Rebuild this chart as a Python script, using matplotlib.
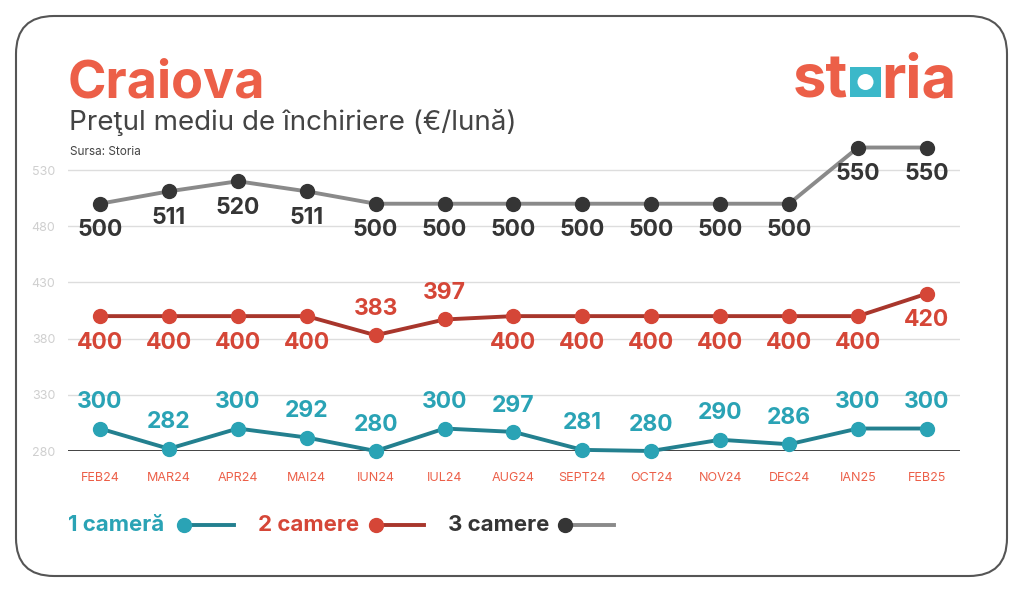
import matplotlib
matplotlib.use("Agg")
import matplotlib.pyplot as plt
from matplotlib.patches import FancyBboxPatch, Rectangle, Circle
from matplotlib.lines import Line2D
from matplotlib.transforms import IdentityTransform

plt.rcParams['font.family'] = ['Inter', 'DejaVu Sans']

# date
luni = ["FEB24", "MAR24", "APR24", "MAI24", "IUN24", "IUL24", "AUG24",
        "SEPT24", "OCT24", "NOV24", "DEC24", "IAN25", "FEB25"]
camera1 = [300, 282, 300, 292, 280, 300, 297, 281, 280, 290, 286, 300, 300]
camere2 = [400, 400, 400, 400, 383, 397, 400, 400, 400, 400, 400, 400, 420]
camere3 = [500, 511, 520, 511, 500, 500, 500, 500, 500, 500, 500, 550, 550]
yticks = [280, 330, 380, 430, 480, 530]

coral = "#ec5f48"
teal_m = "#2aa3b5"
teal_l = "#23808f"
red_m = "#d54637"
red_l = "#a8362c"
dark = "#353535"
gray_l = "#8a8a8a"

W, H = 1024, 592
fig = plt.figure(figsize=(W/100, H/100), dpi=100)
fig.patch.set_facecolor("white")

# rama rotunjita
fig.patches.append(FancyBboxPatch((16, 16), 991, 560,
                                  boxstyle="round,pad=0,rounding_size=38",
                                  transform=IdentityTransform(),
                                  facecolor="none", edgecolor="#555555", lw=1.5))

ax = fig.add_axes([68/W, (H-451)/H, 892/W, 311/H])
x = list(range(len(luni)))
ax.set_xlim(-0.464, 12.48)
ax.set_ylim(280, 280 + 311/1.124)

for s in ax.spines.values():
    s.set_visible(False)
for t in yticks:
    if t == 280:
        ax.axhline(t, color="#333333", lw=1.3, zorder=1)
    else:
        ax.axhline(t, color="#dddddd", lw=1.0, zorder=1)
ax.set_yticks(yticks)
ax.set_yticklabels([str(t) for t in yticks], color="#cfcfcf", fontsize=9)
ax.tick_params(axis="y", length=0, pad=9)
ax.set_xticks(x)
ax.set_xticklabels(luni, color=coral, fontsize=9)
ax.tick_params(axis="x", length=0, pad=15)

def serie(vals, lc, mc, tc, below):
    ax.plot(x, vals, color=lc, lw=2.8, zorder=3, clip_on=False)
    ax.plot(x, vals, "o", color=mc, ms=10, zorder=4, clip_on=False)
    for i, v in enumerate(vals):
        off = -19 if below[i] else 19
        ax.annotate(str(v), (i, v), xytext=(0, off), textcoords="offset points",
                    ha="center", va="center", fontsize=16.5, fontweight="bold",
                    color=tc, zorder=5)

serie(camere3, gray_l, dark, dark, [True]*13)
serie(camere2, red_l, red_m, red_m,
      [True, True, True, True, False, False, True, True, True, True, True, True, True])
serie(camera1, teal_l, teal_m, teal_m, [False]*13)

# titluri
fig.text(68/W, 1-97/H, "Craiova", fontsize=37.5, fontweight="bold", color=coral,
         va="baseline", ha="left")
fig.text(69/W, 1-123/H, "Preţul mediu de închiriere (€/lună)", fontsize=20,
         color="#444444", va="center", ha="left")
fig.text(70/W, 1-152/H, "Sursa: Storia", fontsize=8.5, color="#444444",
         va="center", ha="left")

# logo
fig.text(848/W, 1-97/H, "st", fontsize=43, fontweight="bold", color=coral,
         va="baseline", ha="right")
fig.patches.append(Rectangle((850, H-97), 31, 30, transform=IdentityTransform(),
                             facecolor="#3bb8c9", edgecolor="none"))
fig.patches.append(Circle((865.5, H-82), 8, transform=IdentityTransform(),
                          facecolor="white", edgecolor="none"))
fig.text(881/W, 1-97/H, "ria", fontsize=43, fontweight="bold", color=coral,
         va="baseline", ha="left")

# legenda
leg = [("1 cameră", teal_m, teal_m, teal_l, 68, 184, 234),
       ("2 camere", red_m, red_m, red_l, 258, 376, 424),
       ("3 camere", dark, dark, gray_l, 448, 565, 614)]
ly = H - 525
for lab, tc, mc, lc, tx, mx, ex in leg:
    fig.text(tx/W, ly/H, lab, fontsize=16, fontweight="bold", color=tc,
             va="center", ha="left")
    fig.lines.append(Line2D([mx, ex], [ly, ly], transform=IdentityTransform(),
                            color=lc, lw=2.8))
    fig.lines.append(Line2D([mx], [ly], transform=IdentityTransform(),
                            marker="o", ms=10, color=mc, lw=0))

fig.savefig("out.png", dpi=100, facecolor="white")
